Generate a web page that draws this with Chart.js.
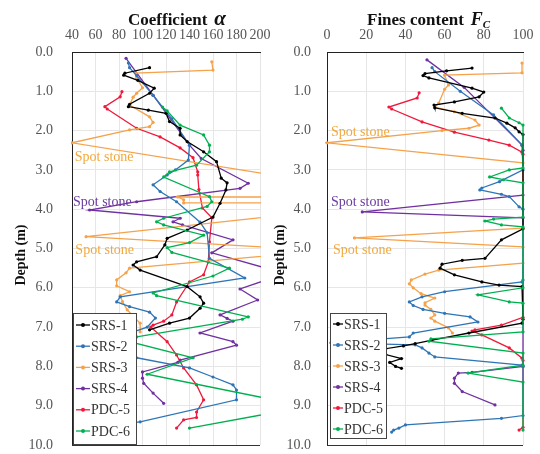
<!DOCTYPE html>
<html><head><meta charset="utf-8">
<script src="https://cdn.jsdelivr.net/npm/chart.js@4"></script>
<style>
html,body{margin:0;padding:0;background:#fff;}
#wrap{position:relative;width:540px;height:454px;background:#fff;}
canvas{position:absolute;top:0;}
#c1{left:0;} #c2{left:270px;}
</style></head><body>
<div id="wrap"><canvas id="c1" width="270" height="454"></canvas><canvas id="c2" width="270" height="454"></canvas></div>
<script>
// ---------- DATA ----------
const seriesNames = ['SRS-1','SRS-2','SRS-3','SRS-4','PDC-5','PDC-6'];
const alphaTicks = [40,60,80,100,120,140,160,180,200];
const fcTicks = [0,20,40,60,80,100];
const depthTicks = [0,1,2,3,4,5,6,7,8,9,10];

// Coefficient alpha vs depth: [alpha, depth(m)]
const alphaSRS1 = [[106,0.40],[85,0.54],[84,0.59],[96,0.72],[110,0.92],[106,1.05],[89,1.33],[88,1.39],[105,1.48],[120,1.56],[123,1.77],[132,1.94],[132,2.11],[138,2.28],[152,2.54],[163,2.79],[167,3.21],[172,3.33],[171,3.51],[166,3.85],[160,4.2],[138,4.53],[121,4.74],[119,4.91],[112,5.21],[95,5.34],[92,5.42],[98,5.55],[138,5.97],[149,6.23],[152,6.39],[149,6.52],[140,6.77],[123,6.9],[106,7.07]];
const alphaSRS2 = [[88,0.28],[89,0.4],[95,0.6],[109,1.1],[125,1.7],[140,2.37],[139,2.75],[128,3.0],[121,3.13],[109,3.38],[115,3.55],[129,3.81],[149,4.33],[155,4.6],[157,5.25],[187,5.75],[81,6.23],[78,6.36],[89,6.48],[106,6.62],[111,6.77],[104,7.0],[60,7.45],[95,7.78],[140,8.04],[160,8.27],[177,8.47],[180,8.6],[180,8.85],[98,9.41],[70,9.5]];
const alphaSRS3 = [[159,0.25],[160,0.46],[94,0.54],[95,0.66],[100,0.91],[95,1.05],[92,1.15],[89,1.35],[106,1.65],[109,1.79],[106,1.9],[89,1.98],[40,2.31],[230,3.22],[230,3.69],[130,3.69],[135,3.76],[135,3.84],[230,3.84],[230,4.12],[52,4.7],[230,5.01],[230,5.12],[89,5.5],[86,5.62],[78,5.8],[78,5.95],[89,6.1],[81,6.2],[83,6.35],[87,6.56],[92,6.72],[98,6.9],[98,7.12]];
const alphaSRS4 = [[86,0.16],[109,1.1],[140,2.37],[150,2.71],[190,3.34],[183,3.47],[95,3.81],[55,4.02],[132,4.23],[126,4.32],[134,4.4],[177,4.78],[159,5.11],[205,5.5],[210,5.75],[183,6.03],[198,6.31],[166,6.69],[172,6.78],[177,6.85],[149,7.15],[177,7.37],[180,7.46],[132,7.84],[130,7.9],[100,8.14],[100,8.3],[101,8.43],[109,8.68],[118,8.94]];
const alphaPDC5 = [[82.5,1.01],[81,1.14],[68,1.39],[70,1.45],[95,1.94],[115,2.16],[132,2.44],[143,2.69],[147,3.05],[147,3.13],[148,3.5],[151,3.97],[159,4.22],[157,4.83],[156,5.34],[152,5.67],[140,5.85],[129,6.36],[125,6.69],[118,6.85],[109,6.95],[107,7.0],[121,7.37],[129,7.71],[135,8.04],[146,8.47],[152,8.85],[146,9.16],[146,9.3],[135,9.36],[129,9.57]];
const alphaPDC6 = [[117,1.4],[121,1.5],[132,1.86],[152,2.11],[157,2.37],[157,2.54],[146,2.88],[123,3.05],[118,3.18],[157,3.68],[159,3.81],[155,3.93],[118,4.23],[112,4.32],[118,4.4],[152,4.66],[140,4.85],[121,4.98],[125,5.1],[174,5.5],[160,5.7],[109,6.13],[112,6.2],[190,6.74],[185,6.8],[95,7.25],[80,7.3],[143,7.78],[104,8.2],[215,8.87],[215,9.16],[140,9.57]];

// Fines content Fc vs depth: [Fc(%), depth(m)]
const fcSRS1 = [[74,0.41],[61,0.48],[50,0.55],[49,0.6],[52,0.66],[74,0.92],[80,1.02],[77.6,1.14],[65,1.27],[54.6,1.35],[55,1.42],[69,1.56],[85.7,1.68],[91.8,1.81],[96,1.93],[98,2.03],[100,2.1],[100,4.5],[89,4.78],[80.6,5.25],[69,5.3],[58.7,5.4],[57.7,5.5],[65,5.67],[79,5.85],[87.8,5.93],[99.5,5.97],[100,6.8],[99.5,6.9],[72.4,7.15],[53.6,7.33],[45,7.42],[39,7.48],[30,7.55],[30,7.7],[38,7.8],[32,7.9],[35,8.0],[38,8.05]];
const fcSRS2 = [[53.6,0.4],[55,0.5],[68,1.0],[85,1.6],[99.5,2.37],[100,3.0],[88,3.3],[79,3.46],[78,3.51],[89,3.62],[93,3.68],[98,3.94],[100,4.0],[100,5.8],[99.5,5.85],[60,6.1],[48.5,6.23],[42,6.36],[44,6.45],[49,6.55],[60,6.65],[73,6.74],[77,6.87],[44,7.15],[42,7.25],[2,7.4],[45,7.45],[48.5,7.53],[52,7.66],[55,7.76],[99.5,7.97],[100,8.0],[100,9.25],[89,9.32],[40,9.49],[36.7,9.57],[34,9.62],[33,9.67]];
const fcSRS3 = [[99.5,0.28],[99.5,0.53],[60,0.59],[62,0.84],[60,0.95],[57,1.3],[55,1.4],[65,1.52],[75.5,1.73],[77.6,1.86],[72.4,1.94],[58.7,2.0],[0,2.31],[100,2.82],[100,4.48],[14,4.73],[100,4.96],[100,5.37],[57,5.55],[50,5.65],[43,5.8],[42,5.9],[44,6.0],[48,6.15],[55,6.26],[50,6.38],[50,6.44],[53,6.55],[55,6.69],[53,6.77],[55,6.85],[62,7.02],[64,7.15]];
const fcSRS4 = [[51,0.2],[70,0.9],[99.5,2.37],[100,2.5],[100,3.64],[18,4.07],[100,4.22],[100,8.0],[74,8.15],[67,8.17],[65,8.3],[65,8.43],[69,8.64],[85.7,8.98]];
const fcPDC5 = [[47,1.04],[46,1.17],[31.6,1.4],[33,1.45],[48.5,1.78],[65,2.04],[82.6,2.24],[93,2.37],[99.5,2.55],[100,2.6],[100,6.75],[89,6.95],[75.5,7.07],[74,7.1],[79,7.2],[93,7.53],[99.5,7.79],[100,7.85],[100,9.55],[98,9.62]];
const fcPDC6 = [[89,1.43],[93,1.68],[98,1.8],[100,1.86],[100,2.95],[93,3.0],[83,3.18],[90,3.25],[100,3.33],[100,4.2],[85,4.25],[80.6,4.3],[89,4.4],[100,4.45],[100,6.0],[77,6.18],[93,6.36],[100,6.39],[100,7.12],[53,7.3],[52,7.36],[100,7.66],[100,7.97],[72,8.17],[100,8.4],[100,9.62]];

// "Spot stone" notes: [value, depth, series index]
const alphaNotes = [[41.5,2.67,2],[40,3.82,3],[42,5.04,2]];
const fcNotes = [[1.5,2.04,2],[1.5,3.82,3],[2.5,5.04,2]];
const noteText = 'Spot stone';

// ---------- STYLE ----------
const colors = ['#000000','#2E75B6','#F5A24A','#7030A0','#F0193C','#00B050'];
const noteColors = ['#000','#000','#F2A93B','#6A3A9E','#000','#000'];
const SERIF = '"Liberation Serif", "Times New Roman", serif';

function mk(name, i, pts, clip){
  return {label:name, data:pts.map(p=>({x:p[0],y:p[1]})), showLine:true,
    borderColor:colors[i], backgroundColor:colors[i], pointBackgroundColor:colors[i],
    pointBorderColor:colors[i], borderWidth:1.3, pointRadius:1.6, pointBorderWidth:0,
    clip: clip, order: i===5 ? -1 : i};
}

function overlay(opts){
  return {id:'ov'+opts.key, afterDraw(chart){
    const ctx=chart.ctx, a=chart.chartArea, xs=chart.scales.x, ys=chart.scales.y;
    ctx.save();
    ctx.strokeStyle='#333'; ctx.lineWidth=1;
    ctx.beginPath(); ctx.moveTo(a.left,Math.round(a.bottom)+0.5); ctx.lineTo(a.right,Math.round(a.bottom)+0.5); ctx.stroke();
    ctx.font='14px '+SERIF; ctx.textBaseline='middle'; ctx.textAlign='left';
    opts.notes.forEach(n=>{ ctx.fillStyle=noteColors[n[2]]; ctx.fillText(noteText, xs.getPixelForValue(n[0])+1, ys.getPixelForValue(n[1])); });
    ctx.fillStyle='#111'; ctx.textBaseline='alphabetic';
    let x=opts.titleX;
    opts.title.forEach(seg=>{ ctx.font=seg.f; ctx.fillText(seg.t, x, 25+(seg.dy||0)); x+=ctx.measureText(seg.t).width+(seg.gap||0); });
    ctx.save(); ctx.translate(opts.depthX, 255); ctx.rotate(-Math.PI/2);
    ctx.font='bold 14px '+SERIF; ctx.textAlign='center'; ctx.textBaseline='middle'; ctx.fillStyle='#111';
    ctx.fillText('Depth (m)',0,0); ctx.restore();
    const L=opts.legend;
    ctx.fillStyle='#fff'; ctx.fillRect(L.x,L.y,L.w,L.h);
    ctx.strokeStyle='#444'; ctx.lineWidth=1; ctx.strokeRect(L.x+0.5,L.y+0.5,L.w,L.h);
    ctx.font='14px '+SERIF; ctx.textBaseline='middle'; ctx.textAlign='left';
    seriesNames.forEach((nm,i)=>{
      const yy=L.row0+i*L.dy;
      ctx.strokeStyle=colors[i]; ctx.lineWidth=1.3;
      ctx.beginPath(); ctx.moveTo(L.x+3,yy); ctx.lineTo(L.x+3+L.lw,yy); ctx.stroke();
      ctx.fillStyle=colors[i]; ctx.beginPath(); ctx.arc(L.x+3+L.lw/2,yy,2,0,Math.PI*2); ctx.fill();
      ctx.fillStyle='#333'; ctx.fillText(nm, L.x+4+L.lw, yy+1);
    });
    ctx.restore();
  }};
}

function zeroPad(s){ s.paddingLeft=0; s.paddingRight=0; s.paddingTop=0; s.paddingBottom=0; }

function makeChart(id, key, sets, xmin, xmax, ytickW, ylabPad, padR, clip, titleSegs, titleX, depthX, notes, legend){
  return new Chart(document.getElementById(id), {
    type:'scatter',
    data:{datasets:sets.map((s,i)=>mk(seriesNames[i],i,s,clip))},
    options:{
      responsive:false, animation:false, devicePixelRatio:1,
      layout:{padding:{left:0,right:padR,top:0,bottom:9}},
      plugins:{legend:{display:false},tooltip:{enabled:false}},
      scales:{
        x:{type:'linear',position:'top',min:xmin,max:xmax,
          afterBuildTicks:s=>{s.ticks=(key==='a'?alphaTicks:fcTicks).map(v=>({value:v}));},
          afterFit:s=>{s.height=52; zeroPad(s);},
          ticks:{font:{family:SERIF,size:14},color:'#555',padding:8,maxRotation:0,autoSkip:false},
          grid:{color:'#e6e6e6',drawTicks:false},
          border:{display:true,color:'#222',width:1}},
        y:{type:'linear',reverse:true,min:0,max:10,
          afterBuildTicks:s=>{s.ticks=depthTicks.map(v=>({value:v}));},
          afterFit:s=>{s.width=ytickW; zeroPad(s);},
          ticks:{font:{family:SERIF,size:14},color:'#555',padding:ylabPad,callback:v=>Number(v).toFixed(1)},
          grid:{color:'#e6e6e6',drawTicks:false},
          border:{display:true,color:'#222',width:1}}
      }
    },
    plugins:[overlay({key, title:titleSegs, titleX, depthX, notes, legend})]
  });
}

makeChart('c1','a',[alphaSRS1,alphaSRS2,alphaSRS3,alphaSRS4,alphaPDC5,alphaPDC6],40,200,72,19,10,false===true?0:{left:1,right:1,top:1,bottom:1},
  [{t:'Coefficient',f:'bold 17px '+SERIF,gap:7},{t:'α',f:'italic bold 21px '+SERIF}],128,21,alphaNotes,
  {x:73,y:313,w:63,h:131,row0:325,dy:21.2,lw:14});
makeChart('c2','f',[fcSRS1,fcSRS2,fcSRS3,fcSRS4,fcPDC5,fcPDC6],0,100,57,16,17,{left:2,right:3,top:1,bottom:1},
  [{t:'Fines content',f:'bold 17px '+SERIF,gap:7},{t:'F',f:'italic bold 18px '+SERIF,gap:0},{t:'C',f:'italic bold 11px '+SERIF,dy:3}],97,10,fcNotes,
  {x:60,y:313,w:56,h:125,row0:324,dy:21,lw:10});
</script></body></html>
